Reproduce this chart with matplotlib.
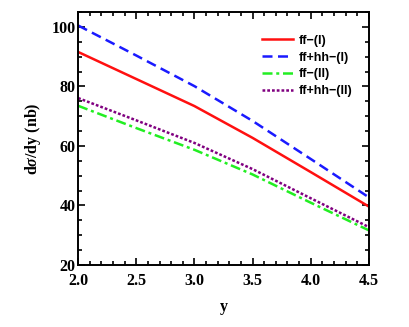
import matplotlib
matplotlib.use('Agg')
import matplotlib.pyplot as plt
from matplotlib.ticker import MultipleLocator

# values
y_rap = [2.0, 2.5, 3.0, 3.5, 4.0, 4.5]
ff_1 = [91.6, 82.5, 73.4, 62.7, 51.2, 39.6]
ffhh_1 = [100.5, 90.4, 80.1, 68.4, 55.6, 42.7]
ff_2 = [73.5, 66.0, 58.7, 50.4, 40.9, 31.6]
ffhh_2 = [76.1, 68.6, 61.0, 52.2, 42.4, 32.7]

labels = ['ff\u2212(I)', 'ff+hh\u2212(I)', 'ff\u2212(II)', 'ff+hh\u2212(II)']

plt.rcParams['font.family'] = ['Liberation Serif', 'DejaVu Serif']
plt.rcParams['mathtext.fontset'] = 'custom'
plt.rcParams['mathtext.it'] = 'Liberation Serif:italic:bold'
plt.rcParams['mathtext.rm'] = 'Liberation Serif:bold'

fig = plt.figure(figsize=(4.09, 3.27), dpi=100)
ax = fig.add_axes([0.191, 0.19, 0.711, 0.773])

ax.plot(y_rap, ff_1, color='#ff1010', lw=1.8, ls='-', label=labels[0])
ax.plot(y_rap, ffhh_1, color='#1a1aff', lw=1.8, ls=(0, (4, 2.2)), label=labels[1])
ax.plot(y_rap, ff_2, color='#22ee22', lw=1.8, ls=(0, (4, 1.5, 1.2, 1.5)), label=labels[2])
ax.plot(y_rap, ffhh_2, color='#800080', lw=1.8, ls=(0, (1.1, 0.8)), label=labels[3])

ax.set_xlim(2.0, 4.5)
ax.set_ylim(20, 105)
ax.xaxis.set_major_locator(MultipleLocator(0.5))
ax.xaxis.set_minor_locator(MultipleLocator(0.1))
ax.yaxis.set_major_locator(MultipleLocator(20))
ax.yaxis.set_minor_locator(MultipleLocator(5))
ax.tick_params(which='both', direction='in', top=True, right=True, width=1.2)
ax.tick_params(which='major', length=5, labelsize=11.5)
ax.tick_params(axis='x', which='major', pad=6)
ax.tick_params(axis='y', which='major', pad=2)
ax.tick_params(which='minor', length=3)
for lab in ax.get_xticklabels() + ax.get_yticklabels():
    lab.set_fontweight('bold')
for sp in ax.spines.values():
    sp.set_linewidth(1.4)

ax.set_xlabel('y', fontsize=11.5, fontweight='bold', labelpad=7)
ax.set_ylabel(r'd$\sigma$/dy (nb)', fontsize=11.5, fontweight='bold', labelpad=6)

ax.legend(loc='upper left', bbox_to_anchor=(0.61, 0.935), frameon=False,
          handlelength=2.5, handletextpad=0.45, labelspacing=0.38, borderpad=0,
          prop={'family': ['Liberation Sans', 'DejaVu Sans'], 'weight': 'bold', 'size': 9})

fig.savefig('out.png', dpi=100)
